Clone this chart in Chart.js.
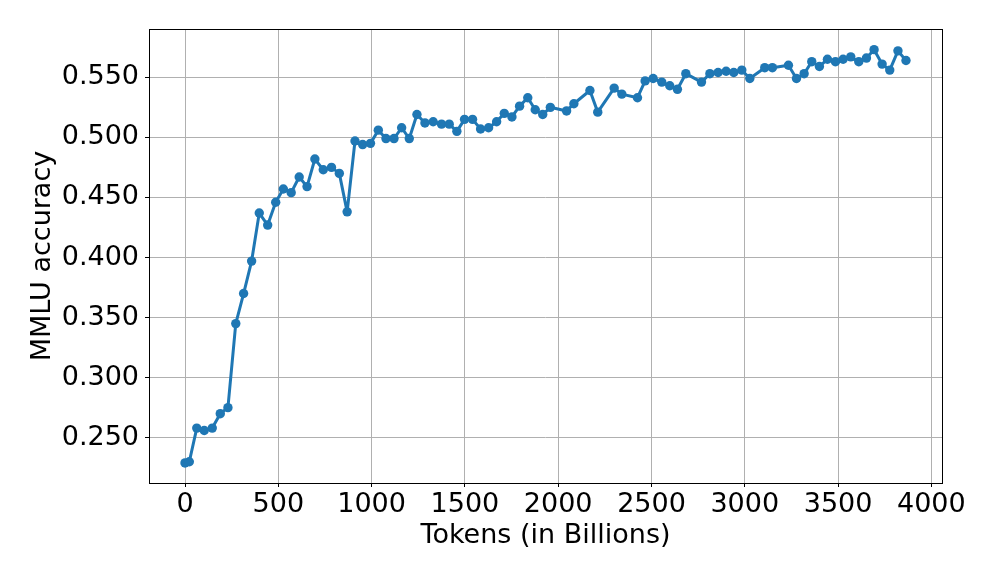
<!DOCTYPE html>
<html>
<head>
<meta charset="utf-8">
<script src="https://cdn.jsdelivr.net/npm/chart.js@4/dist/chart.umd.min.js"></script>
<style>
  html, body { margin: 0; padding: 0; background: #fff; }
  #wrap { width: 996px; height: 581px; position: relative; }
</style>
</head>
<body>
<div id="wrap"><canvas id="c" width="996" height="581"></canvas></div>
<script>
const tokens = [0, 23, 63, 103, 146, 189, 230, 272, 314, 357, 398, 443, 486, 527, 569, 612, 654, 696, 741, 785,
  827, 869, 911, 952, 994, 1036, 1077, 1120, 1161, 1202, 1243, 1286, 1330, 1375, 1416, 1457, 1498, 1541, 1584, 1627,
  1670, 1711, 1752, 1793, 1837, 1877, 1917, 1958, 2045, 2084, 2170, 2212, 2300, 2341, 2425, 2466, 2509, 2555, 2598, 2639,
  2684, 2768, 2813, 2857, 2900, 2941, 2984, 3027, 3107, 3148, 3234, 3277, 3318, 3359, 3400, 3443, 3486, 3527, 3568, 3611,
  3652, 3693, 3736, 3777, 3821, 3864];
const mmlu = [0.229, 0.230, 0.258, 0.256, 0.258, 0.270, 0.275, 0.345, 0.370, 0.397, 0.437, 0.427, 0.446, 0.457, 0.454, 0.467, 0.459, 0.482, 0.473, 0.475,
  0.470, 0.438, 0.497, 0.494, 0.495, 0.506, 0.499, 0.499, 0.508, 0.499, 0.519, 0.512, 0.513, 0.511, 0.511, 0.505, 0.515, 0.515, 0.507, 0.508,
  0.513, 0.520, 0.517, 0.526, 0.533, 0.523, 0.519, 0.525, 0.522, 0.528, 0.539, 0.521, 0.541, 0.536, 0.533, 0.547, 0.549, 0.546, 0.543, 0.540,
  0.553, 0.546, 0.553, 0.554, 0.555, 0.554, 0.556, 0.549, 0.558, 0.558, 0.560, 0.549, 0.553, 0.563, 0.559, 0.565, 0.563, 0.565, 0.567, 0.563,
  0.566, 0.573, 0.561, 0.556, 0.572, 0.564];
const xTicks = [0, 500, 1000, 1500, 2000, 2500, 3000, 3500, 4000];
const yTicks = [0.25, 0.30, 0.35, 0.40, 0.45, 0.50, 0.55];
const xLabel = 'Tokens (in Billions)';
const yLabel = 'MMLU accuracy';

const FONT = "'DejaVu Sans', sans-serif";
const points = tokens.map((t, i) => ({x: t, y: mmlu[i]}));

const frame = {
  id: 'frame',
  afterDatasetsDraw(chart) {
    const {ctx, chartArea: a} = chart;
    ctx.save();
    ctx.strokeStyle = '#000';
    ctx.lineWidth = 1;
    ctx.strokeRect(Math.round(a.left) + 0.5, Math.round(a.top) + 0.5,
      Math.round(a.right - a.left), Math.round(a.bottom - a.top));
    ctx.restore();
  }
};

new Chart(document.getElementById('c'), {
  type: 'line',
  data: {
    datasets: [{
      data: points,
      borderColor: '#1f77b4',
      backgroundColor: '#1f77b4',
      borderWidth: 3,
      borderJoinStyle: 'round',
      borderCapStyle: 'round',
      pointRadius: 4.7,
      pointHoverRadius: 4.7,
      pointBorderWidth: 0,
      tension: 0,
      fill: false
    }]
  },
  options: {
    responsive: false,
    animation: false,
    events: [],
    layout: { padding: { left: 0, top: 29, right: 54, bottom: 0 } },
    plugins: { legend: { display: false }, tooltip: { enabled: false } },
    scales: {
      x: {
        type: 'linear',
        min: -193, max: 4057,
        afterBuildTicks: s => { s.ticks = xTicks.map(v => ({value: v})); },
        afterFit: s => { s.height = 98; },
        grid: { color: '#b0b0b0', lineWidth: 1, tickColor: '#000', tickLength: 4, drawTicks: true },
        border: { display: false },
        ticks: { color: '#000', font: { family: FONT, size: 27 }, padding: 2, maxRotation: 0, autoSkip: false,
          callback: v => String(v) },
        title: { display: true, text: xLabel, color: '#000', font: { family: FONT, size: 27 }, padding: { top: 0, bottom: 29 } }
      },
      y: {
        type: 'linear',
        min: 0.2123, max: 0.5902,
        afterBuildTicks: s => { s.ticks = yTicks.map(v => ({value: v})); },
        afterFit: s => { s.width = 149; },
        grid: { color: '#b0b0b0', lineWidth: 1, tickColor: '#000', tickLength: 4, drawTicks: true },
        border: { display: false },
        ticks: { color: '#000', font: { family: FONT, size: 27 }, padding: 6, autoSkip: false,
          callback: v => Number(v).toFixed(3) },
        title: { display: true, text: yLabel, color: '#000', font: { family: FONT, size: 27 }, padding: { top: 27, bottom: 0 } }
      }
    }
  },
  plugins: [frame]
});
</script>
</body>
</html>
